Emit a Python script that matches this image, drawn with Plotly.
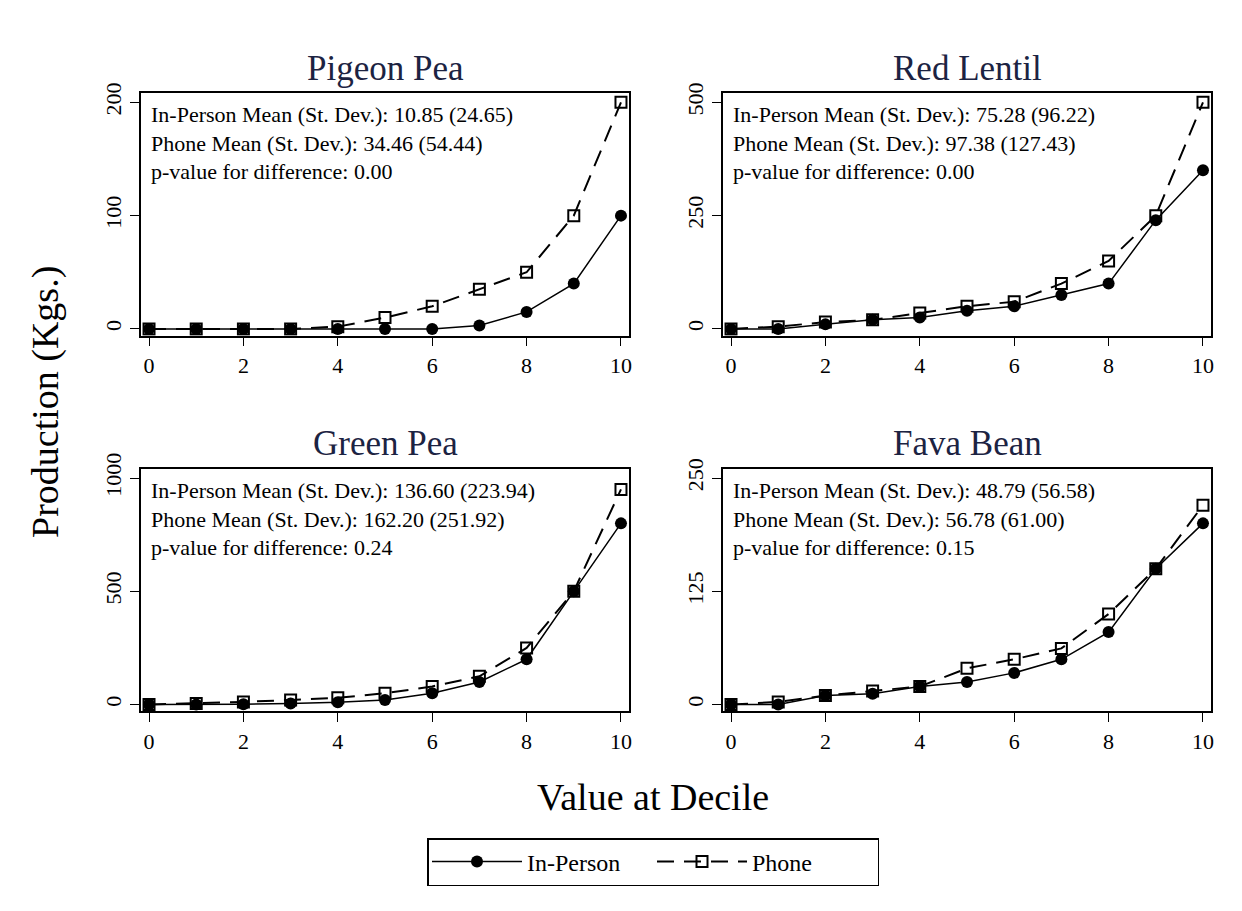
import plotly.graph_objects as go

# ---------------- data ----------------
deciles = [0, 1, 2, 3, 4, 5, 6, 7, 8, 9, 10]
x_ticks = [0, 2, 4, 6, 8, 10]

crops = ["Pigeon Pea", "Red Lentil", "Green Pea", "Fava Bean"]

pigeon_inperson = [0, 0, 0, 0, 0, 0, 0, 3, 15, 40, 100]
pigeon_phone = [0, 0, 0, 0, 2, 10, 20, 35, 50, 100, 200]

lentil_inperson = [0, 0, 10, 20, 25, 40, 50, 75, 100, 240, 350]
lentil_phone = [0, 5, 15, 20, 35, 50, 60, 100, 150, 250, 500]

greenpea_inperson = [0, 0, 2, 5, 10, 20, 50, 100, 200, 500, 800]
greenpea_phone = [0, 5, 12, 20, 30, 50, 80, 125, 250, 500, 950]

fava_inperson = [0, 0, 10, 12, 20, 25, 35, 50, 80, 150, 200]
fava_phone = [0, 3, 10, 15, 20, 40, 50, 62, 100, 150, 220]

y_ticks_pigeon = [0, 100, 200]
y_ticks_lentil = [0, 250, 500]
y_ticks_greenpea = [0, 500, 1000]
y_ticks_fava = [0, 125, 250]

stats_pigeon = ["In-Person Mean (St. Dev.): 10.85 (24.65)",
                "Phone Mean (St. Dev.): 34.46 (54.44)",
                "p-value for difference: 0.00"]
stats_lentil = ["In-Person Mean (St. Dev.): 75.28 (96.22)",
                "Phone Mean (St. Dev.): 97.38 (127.43)",
                "p-value for difference: 0.00"]
stats_greenpea = ["In-Person Mean (St. Dev.): 136.60 (223.94)",
                  "Phone Mean (St. Dev.): 162.20 (251.92)",
                  "p-value for difference: 0.24"]
stats_fava = ["In-Person Mean (St. Dev.): 48.79 (56.58)",
              "Phone Mean (St. Dev.): 56.78 (61.00)",
              "p-value for difference: 0.15"]

# ---------------- layout / styling ----------------
W, H = 1242, 911
FONT = "Liberation Serif, DejaVu Serif, serif"
TITLE_COLOR = "#1c2342"

panels = [
    (pigeon_inperson, pigeon_phone, y_ticks_pigeon, stats_pigeon),
    (lentil_inperson, lentil_phone, y_ticks_lentil, stats_lentil),
    (greenpea_inperson, greenpea_phone, y_ticks_greenpea, stats_greenpea),
    (fava_inperson, fava_phone, y_ticks_fava, stats_fava),
]

# panel boxes in pixels (left, right, top, bottom)
boxes = [
    (141, 629, 93.3, 335.7),
    (723, 1211, 93.3, 335.7),
    (141, 629, 469.0, 711.4),
    (723, 1211, 469.0, 711.4),
]

fig = go.Figure()
annotations = []

for i, ((inp, ph, yt, stats), (l, r, t, b)) in enumerate(zip(panels, boxes)):
    n = "" if i == 0 else str(i + 1)
    xa, ya = "x" + n, "y" + n
    fig.add_trace(go.Scatter(
        x=deciles, y=inp, xaxis=xa, yaxis=ya, mode="lines+markers",
        name="In-Person", legendgroup="inp", showlegend=(i == 0),
        line=dict(color="black", width=1.5),
        marker=dict(symbol="circle", size=12, color="black"),
    ))
    fig.add_trace(go.Scatter(
        x=deciles, y=ph, xaxis=xa, yaxis=ya, mode="lines+markers",
        name="Phone", legendgroup="ph", showlegend=(i == 0),
        line=dict(color="black", width=2, dash="17px,10px"),
        marker=dict(symbol="square-open", size=11, color="black",
                    line=dict(width=2, color="black")),
    ))
    ymax = yt[-1]
    axis_common = dict(
        showgrid=False, zeroline=False, showline=True, mirror=True,
        linecolor="black", linewidth=1.5, ticks="outside", ticklen=9,
        tickwidth=1.2, tickcolor="black", automargin=False,
        tickfont=dict(family=FONT, size=22, color="black"),
    )
    fig.layout["xaxis" + n] = dict(
        domain=[l / W, r / W], anchor=ya, range=[-0.17, 10.17],
        tickvals=x_ticks, ticktext=[str(v) for v in x_ticks], **axis_common)
    fig.layout["yaxis" + n] = dict(
        domain=[1 - b / H, 1 - t / H], anchor=xa,
        range=[-0.03 * ymax, 1.04 * ymax], tickvals=yt,
        ticktext=[str(v) for v in yt], tickangle=-90, **axis_common)

    # panel title
    annotations.append(dict(
        text=crops[i], xref="paper", yref="paper", x=(l + r) / 2 / W,
        y=1 - (t - 25) / H, xanchor="center", yanchor="middle",
        showarrow=False, font=dict(family=FONT, size=35, color=TITLE_COLOR)))
    # stats text (one block, three lines)
    annotations.append(dict(
        text="<br>".join(stats), xref=xa + " domain", yref=ya + " domain",
        x=0.016, y=1 - 7 / (b - t), xanchor="left", yanchor="top",
        align="left", showarrow=False,
        font=dict(family=FONT, size=22, color="black")))

annotations.append(dict(
    text="Production (Kgs.)", xref="paper", yref="paper", x=45 / W,
    y=1 - 402 / H, textangle=-90, xanchor="center", yanchor="middle",
    showarrow=False, font=dict(family=FONT, size=38, color="black")))
annotations.append(dict(
    text="Value at Decile", xref="paper", yref="paper", x=653 / W,
    y=1 - 797 / H, xanchor="center", yanchor="middle",
    showarrow=False, font=dict(family=FONT, size=38, color="black")))

fig.update_layout(
    template="none",
    width=W, height=H, margin=dict(l=0, r=0, t=0, b=0, pad=0),
    autosize=False,
    paper_bgcolor="white", plot_bgcolor="white",
    annotations=annotations,
    showlegend=True,
    legend=dict(
        orientation="h", x=653 / W, y=1 - 862 / H, xanchor="center",
        yanchor="middle", bordercolor="black", borderwidth=1.5,
        bgcolor="white", font=dict(family=FONT, size=24, color="black"),
        entrywidth=120, itemwidth=90,
    ),
)

fig.write_html("out.html")
